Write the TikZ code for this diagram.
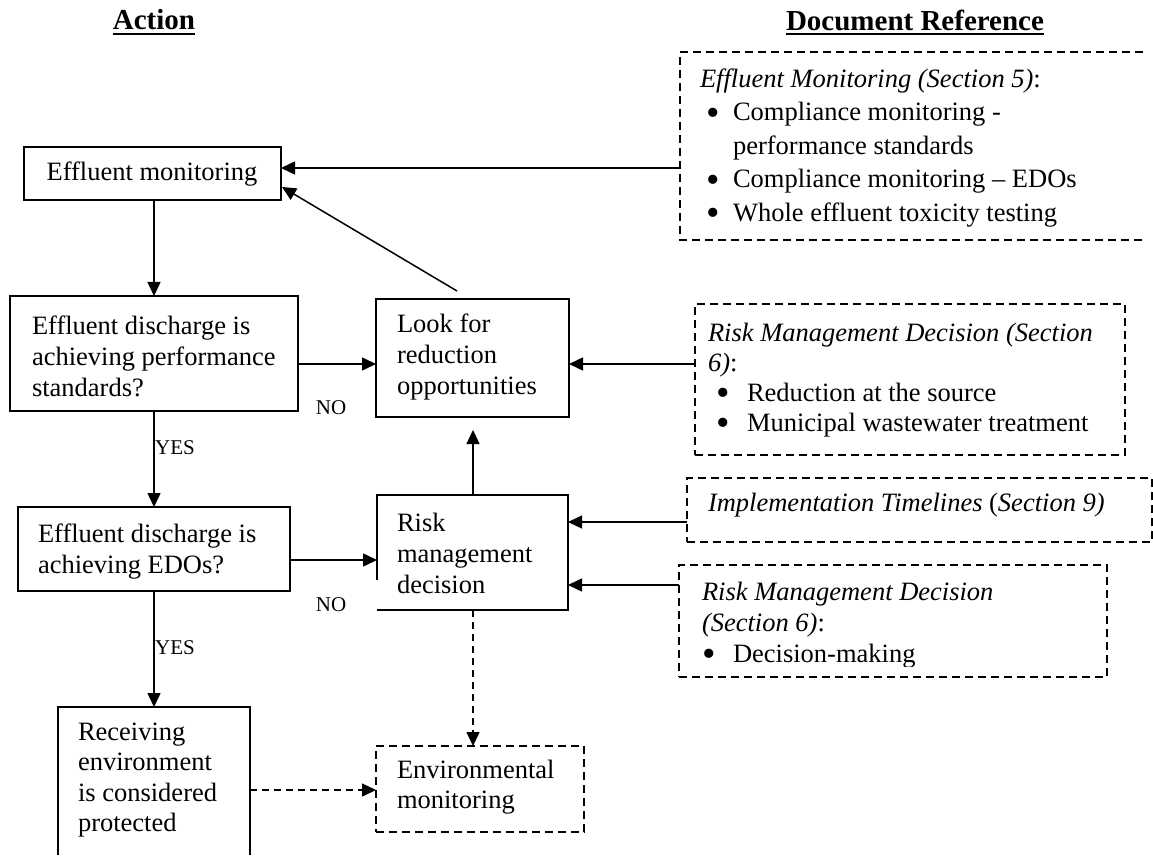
\documentclass[tikz,border=0pt]{standalone}
\usepackage{fontspec}
\setmainfont{Liberation Serif}
\usetikzlibrary{arrows.meta}
\newcommand{\bigbullet}{\smash{\raisebox{-4.5pt}{\scalebox{1.45}{•}}}}
\begin{document}
\begin{tikzpicture}[x=1pt,y=-1pt,
  every node/.style={inner sep=0pt,outer sep=0pt},
  sz/.style args={#1/#2}{minimum width=#1pt,minimum height=#2pt,anchor=north west},
  solid box/.style={draw,line width=1.6pt},
  dash box/.style={draw,line width=1.6pt,dash pattern=on 8pt off 5pt},
  edge line/.style={line width=1.6pt},
  dash line/.style={line width=1.6pt,dash pattern=on 8pt off 5pt},
  arr/.style={-{Triangle[length=14pt,width=13pt]},line width=1.5pt},
  darr/.style={arr,dash pattern=on 7pt off 5pt},
  txt/.style={font=\fontsize{26.5}{31}\selectfont,align=left,anchor=west},
  lbl/.style={font=\fontsize{21}{24}\selectfont},
  heading/.style={font=\fontsize{29}{34}\selectfont\bfseries}
]
\useasboundingbox[fill=white] (0,0) rectangle (1153,858);

% column headings
\node[heading] (hAct) at (154,20) {Action};
\node[heading] (hDoc) at (915,20) {Document Reference};
\draw[line width=1.8pt] ([yshift=-4pt]hAct.south west) -- ([yshift=-4pt]hAct.south east);
\draw[line width=1.8pt] ([yshift=-4pt]hDoc.south west) -- ([yshift=-4pt]hDoc.south east);

% action column frames
\node[solid box,sz=257/53] (em) at (24,147) {};
\node[solid box,sz=288/115] (perf) at (10,296) {};
\node[solid box,sz=193/118] (look) at (376,299) {};
\node[solid box,sz=272/84] (edo) at (18,507) {};
\node[sz=191/115] (rmd) at (377,495) {};
\draw[edge line] (rmd.west |- 0,580) -- (rmd.north west) -- (rmd.north east)
  -- (rmd.south east) -- (rmd.south west);
\node[sz=192/148] (recv) at (58,707) {};
\draw[edge line] (recv.south west) -- (recv.north west) -- (recv.north east) -- (recv.south east);
\node[dash box,sz=208/86] (env) at (376,746) {};

% texts of the action column
\node[txt,anchor=center] (emT) at (152,174) {Effluent monitoring};
\node[txt] (perfT) at (32,356) {Effluent discharge is\\achieving performance\\standards?};
\node[txt] (lookT) at (397,357) {Look for\\reduction\\opportunities};
\node[txt] (edoT) at (38,552) {Effluent discharge is\\achieving EDOs?};
\node[txt] (rmdT) at (397,553) {Risk\\management\\decision};
\node[txt,font=\fontsize{26.5}{30.3}\selectfont] (recvT) at (78,780) {Receiving\\environment\\is considered\\protected};
\node[txt,font=\fontsize{26.5}{30}\selectfont] (envT) at (397,787) {Environmental\\monitoring};

% document reference frames
\node[sz=463/188] (b1) at (680,52) {};
\draw[dash line] (b1.north east) -- (b1.north west) -- (b1.south west) -- (b1.south east);
\node[dash box,sz=430/151] (b2) at (695,304) {};
\node[dash box,sz=465/64] (b3) at (687,478) {};
\node[dash box,sz=428/112] (b4) at (679,565) {};

% document reference texts
\node[txt,font=\fontsize{26.5}{33.5}\selectfont] (b1T) at (700,148) {%
  \textit{Effluent Monitoring (Section 5)}:\\
  \hspace*{6pt}\makebox[27pt][l]{\bigbullet}Compliance monitoring -\\
  \hspace*{33pt}performance standards\\
  \hspace*{6pt}\makebox[27pt][l]{\bigbullet}Compliance monitoring – EDOs\\
  \hspace*{6pt}\makebox[27pt][l]{\bigbullet}Whole effluent toxicity testing};
\node[txt,font=\fontsize{26.5}{30}\selectfont] (b2T) at (708,380) {%
  \textit{Risk Management Decision (Section}\\
  \textit{6)}:\\
  \hspace*{8pt}\makebox[31pt][l]{\bigbullet}Reduction at the source\\
  \hspace*{8pt}\makebox[31pt][l]{\bigbullet}Municipal wastewater treatment};
\node[txt] (b3T) at (708,505) {\textit{Implementation Timelines} (\textit{Section 9)}};
\begin{scope}
  \clip (670,560) rectangle (1110,666);
  \node[txt,font=\fontsize{26.5}{31}\selectfont] (b4T) at (702,625) {%
    \textit{Risk Management Decision}\\
    \textit{(Section 6)}:\\
    \makebox[31pt][l]{\bigbullet}Decision-making};
\end{scope}

% connectors
\draw[arr] (b1.west |- 0,168) -- (em.east |- 0,168);
\draw[arr] (457,291) -- (282,187);
\draw[arr] (em.south -| 154,0) -- (perf.north -| 154,0);
\draw[arr] (perf.east |- 0,364) -- (look.west |- 0,364);
\draw[arr] (b2.west |- 0,364) -- (look.east |- 0,364);
\draw[arr] (perf.south -| 154,0) -- (edo.north -| 154,0);
\draw[arr,shorten >=13pt] (rmd.north -| 473,0) -- (look.south -| 473,0);
\draw[arr] (edo.east |- 0,560) -- (rmd.west |- 0,560);
\draw[arr] (b3.west |- 0,522) -- (rmd.east |- 0,522);
\draw[arr] (b4.west |- 0,585) -- (rmd.east |- 0,585);
\draw[arr] (edo.south -| 154,0) -- (recv.north -| 154,0);
\draw[darr] (rmd.south -| 473,0) -- (env.north -| 473,0);
\draw[darr] (recv.east |- 0,790) -- (env.west |- 0,790);

% decision labels
\node[lbl] (no1) at (331,408) {NO};
\node[lbl] (no2) at (331,605) {NO};
\node[lbl] (yes1) at (175,448) {YES};
\node[lbl] (yes2) at (175,648) {YES};
\end{tikzpicture}
\end{document}
